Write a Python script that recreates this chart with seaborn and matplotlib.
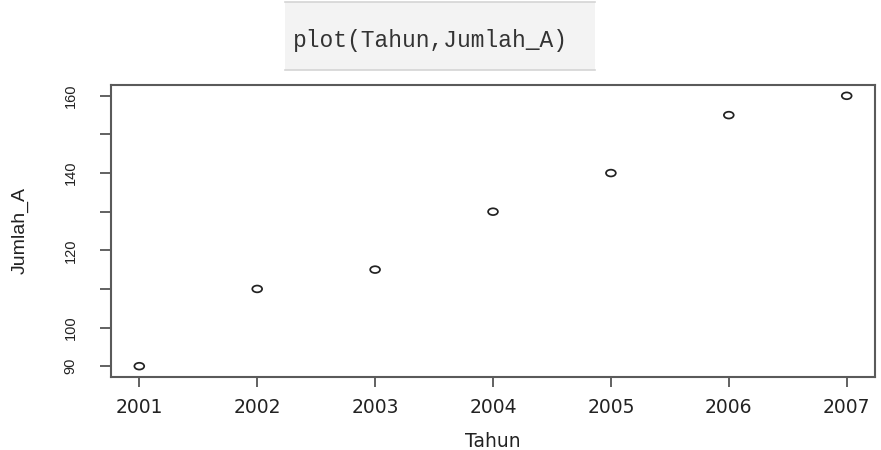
import matplotlib
matplotlib.use("Agg")
import matplotlib.pyplot as plt
from matplotlib.path import Path
from matplotlib.transforms import Affine2D
from matplotlib.ticker import FixedLocator
import seaborn as sns
import pandas as pd

# data
tahun = [2001, 2002, 2003, 2004, 2005, 2006, 2007]
jumlah_a = [90, 110, 115, 130, 140, 155, 160]
y_ticks = [90, 100, 110, 120, 130, 140, 150, 160]
y_tick_labels = ["90", "100", "", "120", "", "140", "", "160"]
code_line = "plot(Tahun,Jumlah_A)"

df = pd.DataFrame({"Tahun": tahun, "Jumlah_A": jumlah_a})

sns.set_style("white")
plt.rcParams["font.family"] = ["DejaVu Sans"]

W, H = 881, 450
fig = plt.figure(figsize=(W / 100, H / 100), dpi=100)
fig.patch.set_facecolor("white")

# code snippet banner
cx0, cx1, cy0, cy1 = 285, 595, 2, 70
cax = fig.add_axes([cx0 / W, 1 - cy1 / H, (cx1 - cx0) / W, (cy1 - cy0) / H])
cax.set_facecolor("#f3f3f3")
cax.set_xticks([])
cax.set_yticks([])
for side in ("left", "right"):
    cax.spines[side].set_visible(False)
for side in ("top", "bottom"):
    cax.spines[side].set_color("#d4d4d4")
    cax.spines[side].set_linewidth(1.2)
cax.text((293 - cx0) / (cx1 - cx0), 0.44, code_line, transform=cax.transAxes,
         ha="left", va="center", fontsize=16.5, family="Liberation Mono",
         color="#333333")

# scatter panel
ax0, ax1, ay0, ay1 = 111, 875, 85, 377
ax = fig.add_axes([ax0 / W, 1 - ay1 / H, (ax1 - ax0) / W, (ay1 - ay0) / H])

ellipse = Path.unit_circle().transformed(Affine2D().scale(1.45, 1.0))
sns.scatterplot(data=df, x="Tahun", y="Jumlah_A", ax=ax, marker=ellipse,
                s=50, facecolors="none", edgecolor="#222222", linewidth=1.25)

ax.set_xlim(2000.76, 2007.24)
ax.set_ylim(87.2, 162.8)
ax.set_xticks(tahun)
ax.set_xticklabels([str(t) for t in tahun])
ax.yaxis.set_major_locator(FixedLocator(y_ticks))
ax.set_yticklabels(y_tick_labels)

for sp in ax.spines.values():
    sp.set_visible(True)
    sp.set_color("#5a5a5a")
    sp.set_linewidth(1.5)

ax.tick_params(axis="x", direction="out", length=7, width=1.3, color="#555555",
               pad=8, labelsize=13.5, labelcolor="#222222", bottom=True)
ax.tick_params(axis="y", direction="out", length=8, width=1.3, color="#555555",
               pad=16, labelsize=10.5, labelcolor="#222222", left=True,
               labelrotation=90, labelfontfamily="Liberation Sans")
for lab in ax.get_yticklabels():
    lab.set_va("center")

ax.set_xlabel("Tahun", fontsize=13.5, color="#222222")
ax.set_ylabel("Jumlah_A", fontsize=14, color="#222222", family="Liberation Sans")
ax.xaxis.set_label_coords(0.5, -0.19)
ax.yaxis.set_label_coords(-0.108, 0.5)

fig.savefig("out.png", dpi=100)
